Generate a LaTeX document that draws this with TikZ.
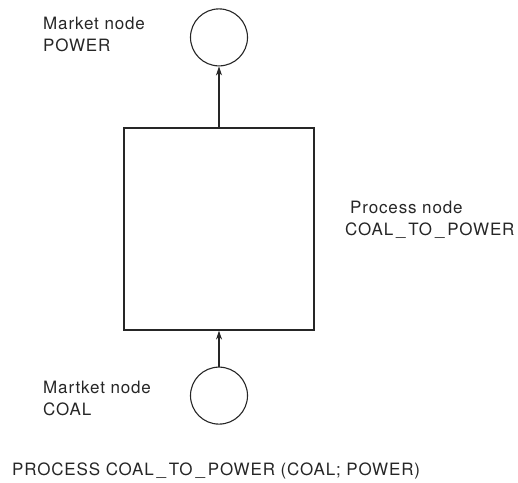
\documentclass[tikz,border=0pt]{standalone}
\usepackage{fontspec}
\setmainfont[LetterSpace=5]{TeX Gyre Heros}
\usetikzlibrary{positioning,arrows.meta}
\definecolor{Ink}{HTML}{262626}

\begin{document}
\begin{tikzpicture}[
    x=1pt,y=-1pt,
    node distance=36pt,
    market/.style={circle,draw=Ink,line width=1.1pt,minimum size=57pt,inner sep=0pt},
    procbox/.style={draw=Ink,line width=1.1pt,minimum width=190pt,minimum height=202pt,inner sep=0pt},
    label/.style={align=left,anchor=north west,inner sep=0pt,font=\fontsize{17}{22}\selectfont,text=Ink},
    arrow/.style={-{Stealth[length=9pt,width=6pt]},line width=1.1pt,Ink}
  ]
    \useasboundingbox (0,0) rectangle (518,482);
    \node[procbox] (proc) at (219,229) {};
    \node[market,above=61pt of proc] (power) {};
    \node[market,below=of proc] (coal) {};
    \node[label] (powerlbl) at (43,17) {Market node\\POWER};
    \node[label] (proclbl) at (345,201) {\hspace{5pt}Process node\\COAL\,\_\,TO\,\_\,POWER};
    \node[label] (coallbl) at (43,381) {Martket node\\COAL};
    \node[label] (decl) at (12,463) {PROCESS COAL\,\_\,TO\,\_\,POWER (COAL; POWER)};
    \draw[arrow] (proc)--(power);
    \draw[arrow] (coal)--(proc);
  \end{tikzpicture}
\end{document}
